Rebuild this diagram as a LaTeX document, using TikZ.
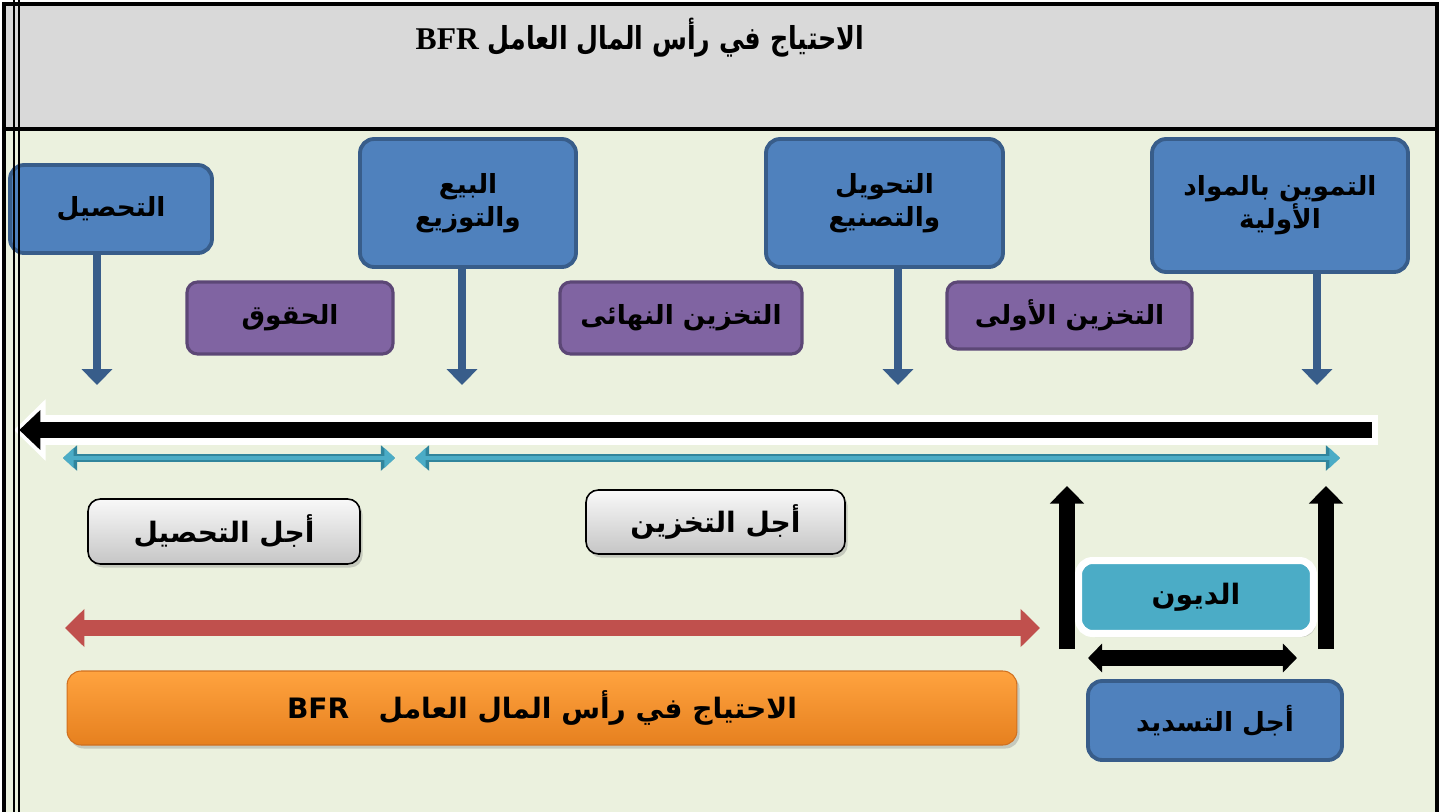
\documentclass[tikz,border=0pt]{standalone}
\usepackage{fontspec}
\newfontfamily\arabicfont[Script=Arabic]{DejaVu Sans}
\newfontfamily\titlefont[Script=Arabic,FakeStretch=0.8]{DejaVu Sans}
\newfontfamily\latinserif{Liberation Serif}
\TeXXeTstate=1
\usetikzlibrary{positioning,arrows.meta,shadows}
\definecolor{bluefill}{HTML}{4F81BD}
\definecolor{blueline}{HTML}{385D8A}
\definecolor{purplefill}{HTML}{8064A2}
\definecolor{purpleline}{HTML}{5C4776}
\definecolor{limebg}{HTML}{EBF1DE}
\definecolor{headgray}{HTML}{D9D9D9}
\definecolor{tealfill}{HTML}{4BACC6}
\definecolor{tealline}{HTML}{31859C}
\definecolor{redfill}{HTML}{C0504D}
\definecolor{orangetop}{HTML}{FFA33F}
\definecolor{orangebot}{HTML}{E6801F}
\definecolor{orangeline}{HTML}{D07020}
\newcommand\boxfont{\arabicfont\bfseries\fontsize{15}{19}\selectfont}
\newcommand\bigboxfont{\arabicfont\bfseries\fontsize{16}{20}\selectfont}

\begin{document}
\begin{tikzpicture}
[   x=0.02cm, y=-0.02cm,
    bnode/.style={draw=blueline,fill=bluefill,line width=2.2pt,rounded corners=8pt,align=center,font=\boxfont},
    pnode/.style={draw=purpleline,fill=purplefill,line width=1.8pt,rounded corners=6pt,font=\boxfont},
    gnode/.style={draw=black,line width=0.9pt,rounded corners=7pt,top color=gray!5,bottom color=gray!45,
                  drop shadow={opacity=0.35,shadow xshift=1.5pt,shadow yshift=-2pt},font=\bigboxfont},
    onode/.style={draw=orangeline,line width=0.6pt,rounded corners=8pt,top color=orangetop,bottom color=orangebot,
                  drop shadow={opacity=0.35,shadow xshift=1.5pt,shadow yshift=-2pt},font=\bigboxfont},
    dnode/.style={draw=white,line width=4pt,fill=tealfill,rounded corners=8pt,
                  drop shadow={opacity=0.3,shadow xshift=1.5pt,shadow yshift=-2pt},font=\bigboxfont},
]
\tikzset{down arrow/.style={draw=blueline,line width=5pt,-{Triangle[width=17pt,length=9pt]}}}
\tikzset{time arrow/.style={draw=black,line width=9pt,-{Triangle[width=22pt,length=12pt]},shorten >=3pt,shorten <=3.5pt,
         preaction={draw=white,line width=17pt,-{Triangle[width=34pt,length=18pt]},shorten >=0pt,shorten <=0pt}}}
\tikzset{teal arrow/.style={draw=tealfill,line width=2.8pt,{Triangle[width=11pt,length=6pt]}-{Triangle[width=11pt,length=6pt]},
         preaction={draw=tealline,line width=4.8pt,{Triangle[width=14pt,length=8pt]}-{Triangle[width=14pt,length=8pt]}}}}
\tikzset{red arrow/.style={draw=redfill,line width=9.5pt,{Triangle[width=21pt,length=11pt]}-{Triangle[width=21pt,length=11pt]}}}
\tikzset{up arrow/.style={draw=black,line width=9pt,-{Triangle[width=19pt,length=10pt]}}}
\tikzset{pay arrow/.style={draw=black,line width=9.5pt,{Triangle[width=16pt,length=8pt]}-{Triangle[width=16pt,length=8pt]}}}
\useasboundingbox (0,0) rectangle (1445,812);
\fill[limebg] (4,129) rectangle (1437,812);
\fill[headgray] (4,4) rectangle (1437,129);
\node[font=\titlefont\bfseries\fontsize{18}{22}\selectfont] (title) at (640,38)
    {\beginR الاحتياج في رأس المال العامل \beginL{\latinserif BFR}\endL\endR};

\node[bnode,minimum width=4.04cm,minimum height=1.76cm] (b-1) at (111,209) {\beginR التحصيل\endR};
\node[bnode,minimum width=4.32cm,minimum height=2.56cm] (b-2) at (468,203) {\beginR البيع\endR\\\beginR والتوزيع\endR};
\node[bnode,minimum width=4.74cm,minimum height=2.56cm] (b-3) at (884.5,203) {\beginR التحويل\endR\\\beginR والتصنيع\endR};
\node[bnode,minimum width=5.12cm,minimum height=2.66cm] (b-4) at (1280,205.5) {\beginR التموين بالمواد\endR\\\beginR الأولية\endR};
\foreach \i/\x in {1/97,2/462,3/898,4/1317}
{
    \coordinate (d-\i) at (\x,385);
    \path[down arrow] (b-\i.south -| d-\i) -- (d-\i);
}

\node[pnode,minimum width=4.12cm,minimum height=1.44cm] (p-1) at (290,318) {\beginR الحقوق\endR};
\node[pnode,minimum width=4.84cm,minimum height=1.44cm] (p-2) at (681,318) {\beginR التخزين النهائى\endR};
\node[pnode,minimum width=4.9cm,minimum height=1.34cm] (p-3) at (1069.5,315.5) {\beginR التخزين الأولى\endR};

\coordinate (t-start) at (1378,430);
\coordinate (t-end) at (14,430);
\path[time arrow] (t-start) -- (t-end);

\coordinate (s-1) at (63,458);
\coordinate (s-2) at (395,458);
\coordinate (s-3) at (415,458);
\coordinate (s-4) at (1340,458);
\path[teal arrow] (s-1) -- (s-2);
\path[teal arrow] (s-3) -- (s-4);

\node[gnode,minimum width=5.44cm,minimum height=1.3cm] (g-1) at (224,531.5) {\beginR أجل التحصيل\endR};
\node[gnode,minimum width=5.18cm,minimum height=1.28cm] (g-2) at (715.5,522) {\beginR أجل التخزين\endR};

\coordinate (r-1) at (65,628);
\coordinate (r-2) at (1040,628);
\path[red arrow] (r-1) -- (r-2);
\node[onode,minimum width=19cm,minimum height=1.48cm] (bfr) at (542,708)
    {\beginR الاحتياج في رأس المال العامل\ \ \ \beginL BFR\endL\endR};

\coordinate (u-1) at (1067,649);
\coordinate (v-1) at (1067,486);
\coordinate (u-2) at (1326,649);
\coordinate (v-2) at (1326,486);
\path[up arrow] (u-1) -- (v-1);
\path[up arrow] (u-2) -- (v-2);
\node[dnode,minimum width=4.7cm,minimum height=1.46cm] (debt) at (1196,597) {\beginR الديون\endR};
\coordinate (e-1) at (1088,658);
\coordinate (e-2) at (1297,658);
\path[pay arrow] (e-1) -- (e-2);
\node[bnode,minimum width=5.08cm,minimum height=1.58cm] (pay) at (1215,720.5) {\beginR أجل التسديد\endR};

\draw[line width=2pt] (4,812) -- (4,4) -- (1437,4) -- (1437,812);
\draw[line width=2pt] (4,129) -- (1437,129);
\draw[line width=1pt] (14,0) -- (14,812);
\draw[line width=1pt] (19,0) -- (19,812);
\end{tikzpicture}
\end{document}
